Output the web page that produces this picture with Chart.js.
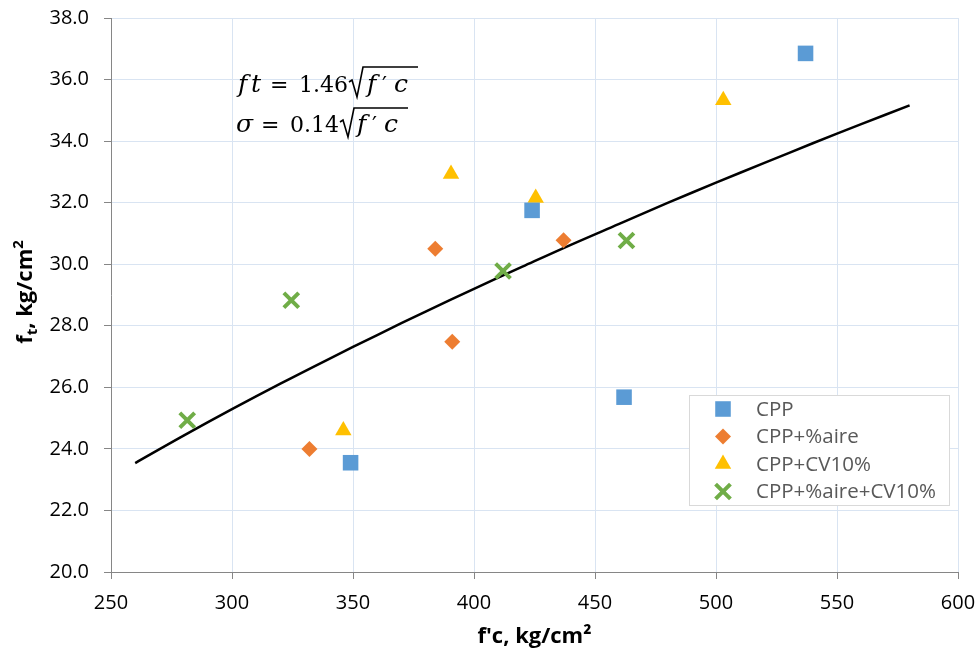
<!DOCTYPE html>
<html>
<head>
<meta charset="utf-8">
<script src="https://cdn.jsdelivr.net/npm/chart.js@4.4.1/dist/chart.umd.min.js"></script>
<style>
html,body{margin:0;padding:0;background:#fff;}
#wrap{width:976px;height:651px;position:relative;}
</style>
</head>
<body>
<div id="wrap"><canvas id="c" width="976" height="651"></canvas></div>
<script>
// ---- data ----
const seriesNames = ["CPP", "CPP+%aire", "CPP+CV10%", "CPP+%aire+CV10%"];
const cppX = [537, 424, 462, 349];
const cppY = [36.85, 31.75, 25.68, 23.55];
const aireX = [332, 384, 391, 437];
const aireY = [24.0, 30.5, 27.48, 30.78];
const cvX = [346, 390.5, 425.5, 503];
const cvY = [24.6, 32.93, 32.15, 35.33];
const aireCvX = [281.5, 324.5, 412, 463];
const aireCvY = [24.93, 28.83, 29.78, 30.77];
const curveX = [260, 280, 300, 320, 340, 360, 380, 400, 420, 440, 460, 480, 500, 520, 540, 560, 580];
const curveY = [23.54, 24.43, 25.29, 26.12, 26.92, 27.70, 28.46, 29.20, 29.92, 30.63, 31.31, 31.99, 32.65, 33.29, 33.93, 34.55, 35.16];
const xTicks = [250, 300, 350, 400, 450, 500, 550, 600];
const yTicks = [20, 22, 24, 26, 28, 30, 32, 34, 36, 38];

const zip = (xs, ys) => xs.map((x, i) => ({x: x, y: ys[i]}));

const FONT = "'Open Sans', 'Noto Sans', sans-serif";

const datasets = [
  {label: seriesNames[0], data: zip(cppX, cppY), pointStyle: 'rect', pointRadius: 11,
   backgroundColor: '#5B9BD5', borderColor: '#5B9BD5', borderWidth: 0, showLine: false, order: 1},
  {label: seriesNames[1], data: zip(aireX, aireY), pointStyle: 'rectRot', pointRadius: 8,
   backgroundColor: '#ED7D31', borderColor: '#ED7D31', borderWidth: 0, showLine: false, order: 1},
  {label: seriesNames[2], data: zip(cvX, cvY), pointStyle: 'triangle', pointRadius: 9.5,
   backgroundColor: '#FFC000', borderColor: '#FFC000', borderWidth: 0, showLine: false, order: 1},
  {label: seriesNames[3], data: zip(aireCvX, aireCvY), pointStyle: 'crossRot', pointRadius: 10.5,
   backgroundColor: '#70AD47', borderColor: '#70AD47', borderWidth: 4, showLine: false, order: 1},
  {label: 'curve', data: zip(curveX, curveY), showLine: true, pointRadius: 0, borderColor: '#000',
   borderWidth: 2.5, fill: false, tension: 0.4, order: 2}
];

function drawMarker(ctx, ds, x, y) {
  ctx.save();
  ctx.fillStyle = ds.backgroundColor;
  ctx.strokeStyle = ds.borderColor;
  ctx.lineWidth = ds.borderWidth;
  Chart.helpers.drawPoint(ctx, {pointStyle: ds.pointStyle, radius: ds.pointRadius, borderWidth: ds.borderWidth, rotation: 0}, x, y);
  ctx.restore();
}

const overlay = {
  id: 'overlay',
  afterDraw(chart) {
    const ctx = chart.ctx;
    const ca = chart.chartArea;
    ctx.save();
    // x-axis title
    ctx.fillStyle = '#000';
    ctx.textBaseline = 'alphabetic';
    ctx.font = "bold 22px " + FONT;
    const t1 = "f'c, kg/cm²";
    const w1 = ctx.measureText(t1).width;
    ctx.fillText(t1, (ca.left + ca.right) / 2 - w1 / 2, 643);

    // y-axis title (rotated, with subscript/superscript)
    ctx.save();
    ctx.translate(32, 292);
    ctx.rotate(-Math.PI / 2);
    const parts = [
      {t: 'f', size: 22, dy: 0},
      {t: 't', size: 15, dy: 5},
      {t: ', kg/cm', size: 22, dy: 0},
      {t: '2', size: 15, dy: -9}
    ];
    let total = 0;
    parts.forEach(p => { ctx.font = "bold " + p.size + "px " + FONT; p.w = ctx.measureText(p.t).width; total += p.w; });
    let x = -total / 2;
    parts.forEach(p => { ctx.font = "bold " + p.size + "px " + FONT; ctx.fillText(p.t, x, p.dy); x += p.w; });
    ctx.restore();

    // equations
    const serif = "'DejaVu Serif', 'Liberation Serif', serif";
    const IT = "italic 25px " + serif, UP = "22px " + serif;
    function put(txt, font, x, y) { ctx.font = font; ctx.fillText(txt, x, y); }
    function radical(x0, by, x1, topY) {
      ctx.lineWidth = 1.6;
      ctx.strokeStyle = '#000';
      ctx.beginPath();
      ctx.moveTo(x0, by - 10);
      ctx.lineTo(x0 + 3, by - 12);
      ctx.lineTo(x0 + 8, by + 5);
      ctx.lineTo(x0 + 14, topY);
      ctx.lineTo(x1, topY);
      ctx.stroke();
    }
    // line 1
    put("f", IT, 238, 92);
    put("t", IT, 251, 92);
    put("=", UP, 270, 92);
    put("1.46", UP, 299, 92);
    radical(349, 92, 418, 67);
    put("f", IT, 367, 92);
    put("′", UP, 382, 92);
    put("c", IT, 394, 92);
    // line 2
    put("σ", IT, 236, 132);
    put("=", UP, 261, 132);
    put("0.14", UP, 290, 132);
    radical(340, 132, 408, 108);
    put("f", IT, 357, 132);
    put("′", UP, 372, 132);
    put("c", IT, 384, 132);

    // legend
    const lx = 689, ly = 395, lw = 260, lh = 110;
    ctx.fillStyle = '#fff';
    ctx.fillRect(lx, ly, lw, lh);
    ctx.strokeStyle = '#D9D9D9';
    ctx.lineWidth = 1;
    ctx.strokeRect(lx + 0.5, ly + 0.5, lw, lh);
    ctx.font = "20.5px " + FONT;
    ctx.textBaseline = 'middle';
    for (let i = 0; i < 4; i++) {
      const ds = chart.data.datasets[i];
      const cy = ly + 14 + i * 27.5;
      drawMarker(ctx, ds, 723, cy);
      ctx.fillStyle = '#595959';
      ctx.fillText(ds.label, 756, cy + 1);
    }
    ctx.restore();
  }
};

function zeroPad(s) { s.paddingTop = 0; s.paddingBottom = 0; s.paddingLeft = 0; s.paddingRight = 0; }

new Chart(document.getElementById('c'), {
  type: 'scatter',
  data: {datasets: datasets},
  options: {
    responsive: false,
    animation: false,
    devicePixelRatio: 1,
    layout: {padding: {left: 0, right: 18, top: 18, bottom: 0}},
    plugins: {legend: {display: false}, tooltip: {enabled: false}},
    scales: {
      x: {
        type: 'linear', min: 250, max: 600,
        afterBuildTicks: s => { s.ticks = xTicks.map(v => ({value: v})); },
        afterFit: s => { s.height = 79; zeroPad(s); },
        grid: {color: '#D9E4F2', lineWidth: 1, tickColor: '#868686', tickLength: 7},
        border: {color: '#868686', width: 1},
        ticks: {color: '#000', font: {family: FONT, size: 20}, padding: 12, maxRotation: 0, autoSkip: false, callback: v => String(v)}
      },
      y: {
        type: 'linear', min: 20, max: 38,
        afterBuildTicks: s => { s.ticks = yTicks.map(v => ({value: v})); },
        afterFit: s => { s.width = 111; zeroPad(s); },
        grid: {color: '#D9E4F2', lineWidth: 1, tickColor: '#868686', tickLength: 7},
        border: {color: '#868686', width: 1},
        ticks: {color: '#000', font: {family: FONT, size: 20}, padding: 15, autoSkip: false, callback: v => Number(v).toFixed(1)}
      }
    }
  },
  plugins: [overlay]
});
</script>
</body>
</html>
